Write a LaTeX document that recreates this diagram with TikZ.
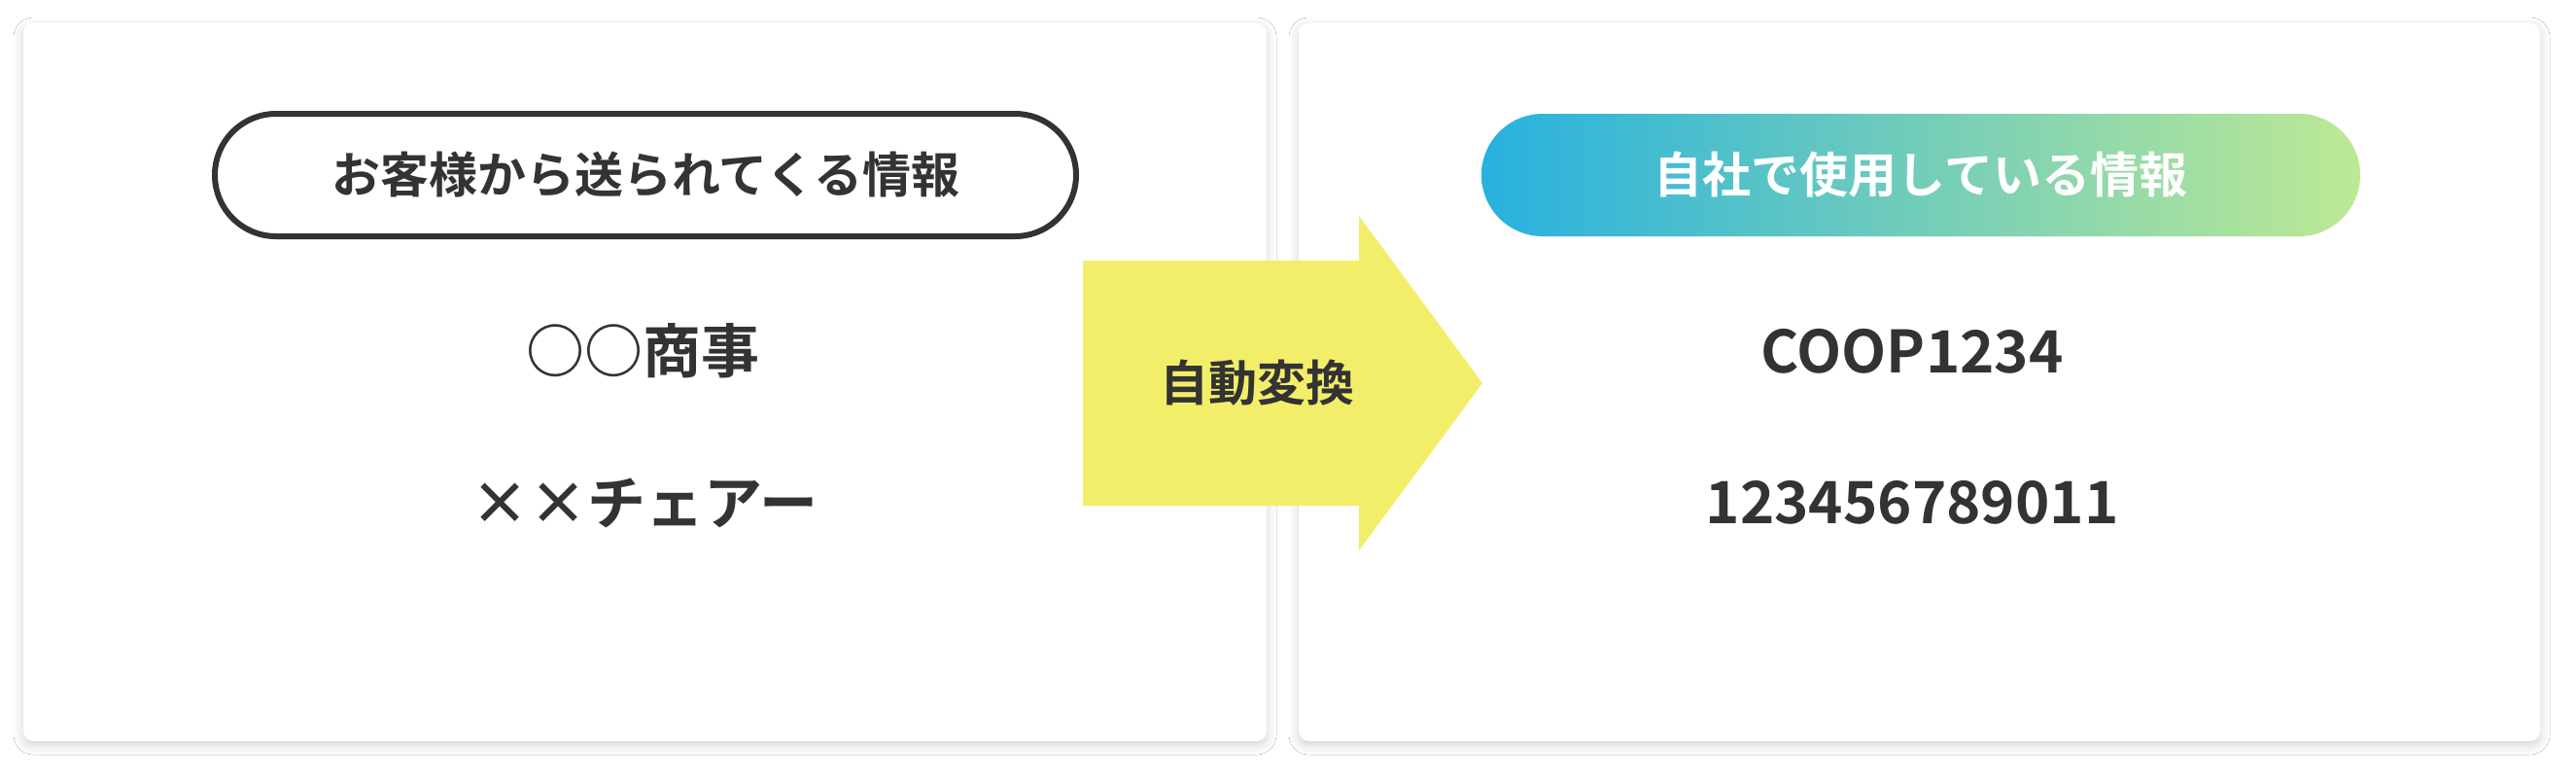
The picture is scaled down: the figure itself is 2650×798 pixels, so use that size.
\documentclass[tikz,border=0pt]{standalone}
\usepackage{fontspec}
\setmainfont{Noto Sans CJK JP}[BoldFont={Noto Sans CJK JP Bold}]
\usetikzlibrary{shadows.blur}
\definecolor{txt}{HTML}{333333}
\definecolor{ylw}{HTML}{F3EE6A}
\definecolor{gA}{HTML}{27B1DF}
\definecolor{gB}{HTML}{BEE994}
\tikzset{
 card/.style={fill=white,rounded corners=10pt,blur shadow={shadow xshift=0pt,shadow yshift=-4pt,shadow blur radius=10pt,shadow opacity=18}},
 lbl/.style={text=txt,font=\bfseries\fontsize{50}{55}\selectfont,anchor=center,inner sep=0pt},
 big/.style={text=txt,font=\bfseries\fontsize{60}{66}\selectfont,anchor=center,inner sep=0pt}
}
\begin{document}
\begin{tikzpicture}[x=1pt,y=-1pt]
\useasboundingbox[fill=white] (0,0) rectangle (2650,798);
\path[card] (24,24) rectangle (1303,762);
\path[card] (1336,24) rectangle (2613,762);
\draw[txt,line width=6pt,rounded corners=63pt] (221,117) rectangle (1107,243);
\node[lbl] (l) at (664,180) {お客様から送られてくる情報};
\node[big] (a1) at (661,361) {○○商事};
\node[big] (a2) at (663,517) {××チェアー};
\fill[ylw] (1114,268) -- (1398,268) -- (1398,222) -- (1525,394) -- (1398,566) -- (1398,520) -- (1114,520) -- cycle;
\node[lbl] (c) at (1293,394) {自動変換};
\begin{scope}
\clip[rounded corners=63pt] (1524,117) rectangle (2428,243);
\shade[left color=gA,right color=gB] (1524,117) rectangle (2428,243);
\end{scope}
\node[lbl,text=white] (r) at (1976,180) {自社で使用している情報};
\node[big] (b1) at (1967,361) {COOP1234};
\node[big] (b2) at (1967,517) {123456789011};
\end{tikzpicture}
\end{document}
